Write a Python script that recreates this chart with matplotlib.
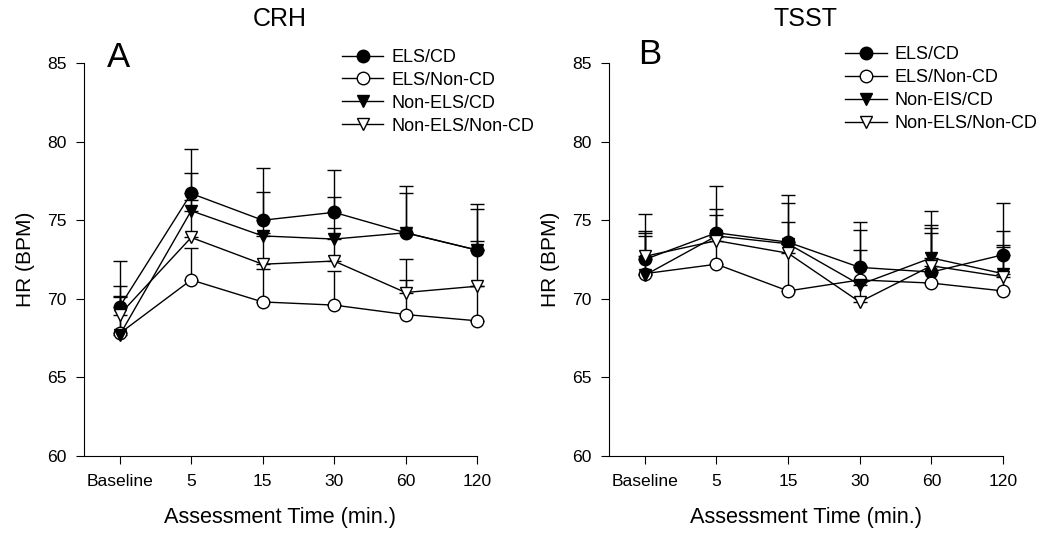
import numpy as np
import matplotlib
matplotlib.use("Agg")
import matplotlib.pyplot as plt

# time points (categorical)
times = ["Baseline", "5", "15", "30", "60", "120"]

# Panel A - CRH, HR means (BPM)
crh_els_cd = [69.5, 76.7, 75.0, 75.5, 74.2, 73.1]
crh_els_noncd = [67.8, 71.2, 69.8, 69.6, 69.0, 68.6]
crh_nonels_cd = [67.7, 75.6, 74.0, 73.8, 74.2, 73.1]
crh_nonels_noncd = [69.0, 73.9, 72.2, 72.4, 70.4, 70.8]
# upper SEM
crh_els_cd_err = [2.9, 2.8, 3.3, 2.7, 3.0, 2.9]
crh_els_noncd_err = [2.4, 2.0, 2.1, 2.2, 2.2, 2.2]
crh_nonels_cd_err = [2.4, 2.4, 2.8, 2.7, 2.5, 0.6]
crh_nonels_noncd_err = [1.8, 2.4, 2.0, 2.1, 2.1, 4.9]

# Panel B - TSST
tsst_els_cd = [72.5, 74.2, 73.6, 72.0, 71.7, 72.8]
tsst_els_noncd = [71.6, 72.2, 70.5, 71.2, 71.0, 70.5]
tsst_nonels_cd = [71.5, 74.0, 73.5, 70.9, 72.6, 71.6]
tsst_nonels_noncd = [72.7, 73.7, 72.9, 69.8, 72.1, 71.4]
tsst_els_cd_err = [2.9, 3.0, 3.0, 2.9, 2.8, 3.3]
tsst_els_noncd_err = [2.6, 1.7, 3.0, 0.9, 3.2, 2.8]
tsst_nonels_cd_err = [2.5, 1.7, 2.6, 3.5, 3.0, 2.7]
tsst_nonels_noncd_err = [1.6, 1.6, 2.0, 3.3, 2.6, 2.0]

plt.rcParams["font.family"] = ["Liberation Sans", "DejaVu Sans"]

fig = plt.figure(figsize=(10.5, 5.38), dpi=100)
W, H = 1050, 538


def add_ax(left, right, top, bottom):
    return fig.add_axes([left / W, 1 - bottom / H, (right - left) / W, (bottom - top) / H])


axA = add_ax(84, 477, 63, 456)
axB = add_ax(609, 1003, 63, 456)

styles = [
    dict(marker="o", mfc="black"),
    dict(marker="o", mfc="white"),
    dict(marker="v", mfc="black"),
    dict(marker="v", mfc="white"),
]

x = np.arange(len(times))


def draw(ax, series, errs, labels, letter, lx, ly, leg_anchor):
    for y, e in zip(series, errs):
        ax.errorbar(x, y, yerr=[np.zeros(len(e)), e], fmt="none", ecolor="black",
                    elinewidth=1.0, capsize=5, capthick=1.0, zorder=2)
    for y, lab, st in zip(series, labels, styles):
        ax.plot(x, y, color="black", lw=1.0, ms=9, mec="black", mew=1.0,
                label=lab, zorder=3, clip_on=False, **st)
    for art in ax.lines + ax.collections:
        art.set_clip_on(False)
    ax.set_xlim(-0.5, 5)
    ax.set_ylim(60, 85)
    ax.set_yticks([60, 65, 70, 75, 80, 85])
    ax.set_xticks(x)
    ax.set_xticklabels(times, fontsize=12.6)
    ax.set_yticklabels([str(v) for v in [60, 65, 70, 75, 80, 85]], fontsize=12.6)
    ax.spines["top"].set_visible(False)
    ax.spines["right"].set_visible(False)
    ax.tick_params(axis="x", direction="out", length=6, pad=7)
    ax.tick_params(axis="y", direction="out", length=6, pad=6.5)
    ax.set_xlabel("Assessment Time (min.)", fontsize=15.7, labelpad=13)
    ax.set_ylabel("HR (BPM)", fontsize=15, labelpad=9)
    ax.text(lx, ly, letter, transform=ax.transAxes, fontsize=25, ha="left", va="baseline")
    ax.legend(loc="upper left", bbox_to_anchor=leg_anchor, frameon=False, fontsize=13,
              borderpad=0, borderaxespad=0, handlelength=2.3, handletextpad=0.45,
              labelspacing=0.33)


draw(axA,
     [crh_els_cd, crh_els_noncd, crh_nonels_cd, crh_nonels_noncd],
     [crh_els_cd_err, crh_els_noncd_err, crh_nonels_cd_err, crh_nonels_noncd_err],
     ["ELS/CD", "ELS/Non-CD", "Non-ELS/CD", "Non-ELS/Non-CD"],
     "A", 0.058, 0.99, (0.656, 1.036))
draw(axB,
     [tsst_els_cd, tsst_els_noncd, tsst_nonels_cd, tsst_nonels_noncd],
     [tsst_els_cd_err, tsst_els_noncd_err, tsst_nonels_cd_err, tsst_nonels_noncd_err],
     ["ELS/CD", "ELS/Non-CD", "Non-EIS/CD", "Non-ELS/Non-CD"],
     "B", 0.073, 0.997, (0.599, 1.042))

fig.text(280 / W, 1 - 26 / H, "CRH", fontsize=18, ha="center", va="baseline")
fig.text(806 / W, 1 - 26 / H, "TSST", fontsize=18, ha="center", va="baseline")

fig.savefig("out.png", dpi=100)
